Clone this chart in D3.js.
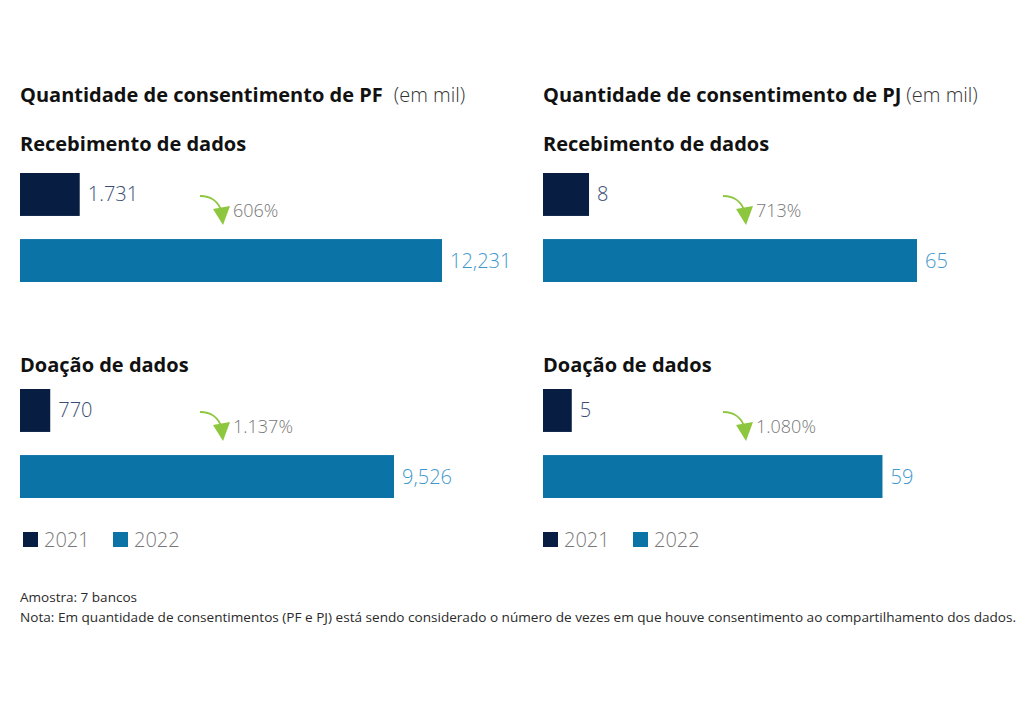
<!DOCTYPE html>
<html><head><meta charset="utf-8">
<script src="https://cdn.jsdelivr.net/npm/d3@7"></script>
<style>
body{margin:0;background:#fff;}
svg{display:block;font-family:"Open Sans",sans-serif;}
</style></head>
<body><svg id="c" width="1024" height="712"></svg>
<script>
// ---- data ----
const years = ["2021", "2022"];
const panels = ["PF", "PJ"];
const panelTitles = ["Quantidade de consentimento de PF", "Quantidade de consentimento de PJ"];
const unitLabel = "(em mil)";
const sections = ["Recebimento de dados", "Doação de dados"];
// values [section][year]
const pfValues = [[1731, 12231], [770, 9526]];
const pjValues = [[8, 65], [5, 59]];
const pfLabels = [["1.731", "12,231"], ["770", "9,526"]];
const pjLabels = [["8", "65"], ["5", "59"]];
const pfGrowth = ["606%", "1.137%"];
const pjGrowth = ["713%", "1.080%"];
const notes = ["Amostra: 7 bancos",
  "Nota: Em quantidade de consentimentos (PF e PJ) está sendo considerado o número de vezes em que houve consentimento ao compartilhamento dos dados."];

// ---- style ----
const colors = {"2021": "#071e42", "2022": "#0b73a6"};
const labelColors = {"2021": "#3b4d73", "2022": "#3f98cc"};
const svg = d3.select("#c");

const panelX = [20, 543];
const sectionY = [173, 389];
const sectionTitleY = [151, 372];
// pixel width of each panel-section's max bar
const maxWidths = [[422, 374], [374, 340]];

const y = d3.scaleBand().domain(years).range([0, 109]).paddingInner(0.35).paddingOuter(0);

panels.forEach((p, pi) => {
  const x0 = panelX[pi];
  const vals = pi === 0 ? pfValues : pjValues;
  const labs = pi === 0 ? pfLabels : pjLabels;
  const growth = pi === 0 ? pfGrowth : pjGrowth;
  const g = svg.append("g").attr("transform", `translate(${x0},0)`);

  const t = g.append("text").attr("x", 0).attr("y", 102)
    .attr("font-size", 20).attr("fill", "#111");
  t.append("tspan").attr("font-weight", 700).text(panelTitles[pi]);
  t.append("tspan").attr("dx", pi === 0 ? 11 : 5).attr("font-weight", 300)
    .attr("fill", "#333").text(unitLabel);

  // PJ uses a shared scale; PF scaled per section
  sections.forEach((s, si) => {
    const x = d3.scaleLinear()
      .domain([0, pi === 1 ? d3.max(vals.flat()) : d3.max(vals[si])])
      .range([0, pi === 1 ? maxWidths[1][0] : maxWidths[0][si]]);
    g.append("text").attr("x", 0).attr("y", sectionTitleY[si])
      .attr("font-size", 20).attr("font-weight", 700).attr("fill", "#111").text(s);
    const sg = g.append("g").attr("transform", `translate(0,${sectionY[si]})`);
    sg.selectAll("rect").data(years).join("rect")
      .attr("x", 0).attr("y", d => y(d))
      .attr("width", (d, i) => x(vals[si][i]))
      .attr("height", y.bandwidth())
      .attr("fill", d => colors[d]);
    sg.selectAll("text.v").data(years).join("text").attr("class", "v")
      .attr("x", (d, i) => x(vals[si][i]) + 8)
      .attr("y", d => y(d) + y.bandwidth() / 2 + 7)
      .attr("font-size", 20).attr("font-weight", 300).attr("fill", d => labelColors[d])
      .text((d, i) => labs[si][i]);
    // growth arrow
    const ag = sg.append("g").attr("transform", "translate(180,23)");
    ag.append("path").attr("d", "M0,0 C10,0 19,5 22,17")
      .attr("fill", "none").attr("stroke", "#8dc63f").attr("stroke-width", 1.8);
    ag.append("path").attr("d", "M13,13 L30,10 L23,29 Z").attr("fill", "#8dc63f");
    sg.append("text").attr("x", 213).attr("y", 44)
      .attr("font-size", 18).attr("font-weight", 300).attr("fill", "#777").text(growth[si]);
  });

  // legend
  const lg = g.append("g").attr("transform", "translate(0,532)");
  years.forEach((yr, i) => {
    const lx = (pi === 0 ? 3 : 0) + i * 90;
    lg.append("rect").attr("x", lx).attr("y", 0).attr("width", 15).attr("height", 15)
      .attr("fill", colors[yr]);
    lg.append("text").attr("x", lx + 21).attr("y", 15).attr("font-size", 20)
      .attr("font-weight", 300).attr("fill", "#777").text(yr);
  });
});

svg.append("text").attr("x", 20).attr("y", 602).attr("font-size", 13).attr("fill", "#2a2a2a")
  .attr("textLength", 117).attr("lengthAdjust", "spacingAndGlyphs").text(notes[0]);
svg.append("text").attr("x", 20).attr("y", 622).attr("font-size", 13).attr("fill", "#2a2a2a")
  .attr("textLength", 996).attr("lengthAdjust", "spacingAndGlyphs").text(notes[1]);
</script></body></html>
